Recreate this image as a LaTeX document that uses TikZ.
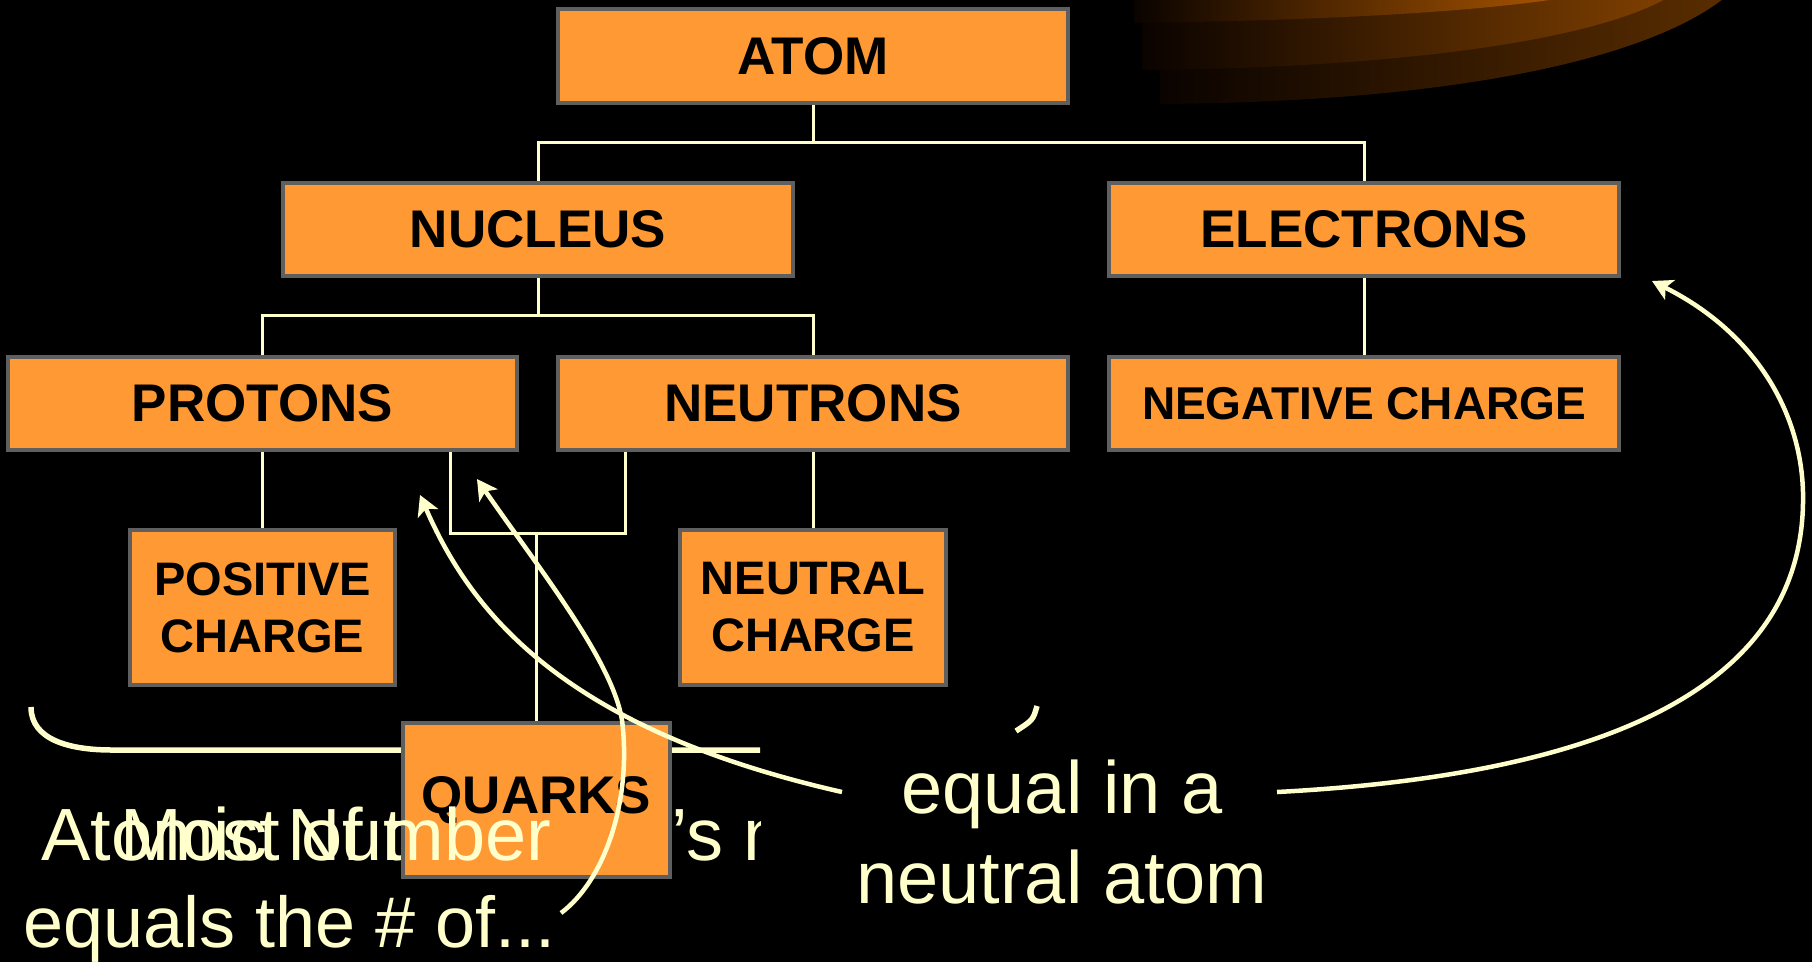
\documentclass[tikz,border=0pt]{standalone}
\usepackage{fontspec}
\setmainfont{Liberation Sans}
\usetikzlibrary{arrows.meta}
\definecolor{boxfill}{HTML}{FF9933}
\definecolor{boxline}{HTML}{5F5F5F}
\definecolor{cream}{HTML}{FFFFCC}
\definecolor{decoA}{HTML}{B05800}
\definecolor{decoB}{HTML}{804000}
\definecolor{decoC}{HTML}{5A2D00}
\definecolor{decodark}{HTML}{0A0300}
\pgfdeclarelayer{back}
\pgfdeclarelayer{bg}
\pgfsetlayers{back,bg,main}
\begin{document}
\begin{tikzpicture}[x=1pt,y=-1pt,
  box/.style={draw=boxline, fill=boxfill, line width=3.5pt, inner sep=0pt, align=center,
              font=\bfseries\fontsize{53}{57}\selectfont},
  conn/.style={draw=cream, line width=3pt},
  arr/.style={draw=cream, line width=4.5pt, -{Stealth[length=20pt,width=22pt,inset=5pt]}},
  bodytxt/.style={text=cream, inner sep=0pt, font=\fontsize{74}{90}\selectfont},
  penline/.style={draw=cream, line width=5.5pt}]
\useasboundingbox (0,0) rectangle (1812,962);
\begin{pgfonlayer}{back}
  \fill[black] (0,0) rectangle (1812,962);
  \begin{scope}
    \clip (0,0) rectangle (1812,962);
    \shade[left color=decodark, right color=decoC] (1160,-5) -- (1160,104) .. controls (1450,102) and (1650,60) .. (1728,-5) -- cycle;
    \shade[left color=decodark, right color=decoB] (1142,-5) -- (1142,70) .. controls (1400,68) and (1600,40) .. (1672,-5) -- cycle;
    \shade[left color=decodark, right color=decoA] (1134,-5) -- (1134,23) .. controls (1350,20) and (1500,10) .. (1580,-5) -- cycle;
  \end{scope}
\end{pgfonlayer}

% boxes
\node[box, minimum width=510pt, minimum height=94pt] (atom) at (813,56) {ATOM};
\node[box, minimum width=510pt, minimum height=93pt] (nucleus) at (538,229.5) {NUCLEUS};
\node[box, minimum width=510pt, minimum height=93pt] (electrons) at (1364,229.5) {ELECTRONS};
\node[box, minimum width=509pt, minimum height=93pt] (protons) at (262.5,403.5) {PROTONS};
\node[box, minimum width=510pt, minimum height=93pt] (neutrons) at (813,403.5) {NEUTRONS};
\node[box, minimum width=510pt, minimum height=93pt, font=\bfseries\fontsize{46}{50}\selectfont] (neg) at (1364,403.5) {NEGATIVE CHARGE};
\node[box, minimum width=265pt, minimum height=155pt, font=\bfseries\fontsize{47}{57}\selectfont] (pos) at (262.5,607.5) {POSITIVE\\CHARGE};
\node[box, minimum width=266pt, minimum height=155pt, font=\bfseries\fontsize{47}{57}\selectfont] (neutral) at (813,607.5) {NEUTRAL\\CHARGE};
\node[box, minimum width=267pt, minimum height=154pt] (quarks) at (536.5,800) {QUARKS};

\begin{pgfonlayer}{bg}
  \coordinate (busA) at (0,142);
  \coordinate (busN) at (0,315);
  \coordinate (q1) at (450,533);
  \coordinate (q2) at (625,533);
  \draw[conn] (atom.south) -- (atom.south |- busA);
  \draw[conn] (nucleus.north) |- (electrons.north |- busA) -- (electrons.north);
  \draw[conn] (nucleus.south) -- (nucleus.south |- busN);
  \draw[conn] (protons.north) |- (neutrons.north |- busN) -- (neutrons.north);
  \draw[conn] (electrons.south) -- (neg.north);
  \draw[conn] (protons.south) -- (pos.north);
  \draw[conn] (neutrons.south) -- (neutral.north);
  \draw[conn] (protons.south -| q1) -- (q1) -- (q2) -- (neutrons.south -| q2);
  \draw[conn] (quarks.north |- q1) -- (quarks.north);
  % partly hidden text and bracket
  \begin{scope}
    \clip (0,770) rectangle (760,900);
    \node[bodytxt, anchor=base west] (most) at (120,860) {Most of the atom’s mass};
  \end{scope}
  \draw[penline] (31,707) .. controls (31,740) and (70,750) .. (112,750) -- (760,750);
  \draw[penline] (1037,706) .. controls (1033,720) .. (1016,731);
\end{pgfonlayer}

% texts
\node[bodytxt, anchor=base west] (atnum) at (41,860) {Atomic Number};
\node[bodytxt, anchor=base west, font=\fontsize{72}{90}\selectfont] (equals) at (23,947) {equals the \# of...};
\node[bodytxt, anchor=base] (eq1) at (1062,813) {equal in a};
\node[bodytxt, anchor=base] (eq2) at (1062,903) {neutral atom};

% arrows
\coordinate (a1s) at (842,792);
\coordinate (a1e) at (420,495);
\coordinate (b1s) at (561,913);
\coordinate (b1m) at (622,720);
\coordinate (b1e) at (477,479);
\coordinate (c1s) at (1277,792);
\coordinate (c1m) at (1803,503);
\coordinate (c1e) at (1652,281);
\draw[arr] (a1s) .. controls (560,728) and (470,610) .. (a1e);
\draw[arr] (b1s) .. controls (605,880) and (632,800) .. (b1m) .. controls (612,660) and (540,570) .. (b1e);
\draw[arr] (c1s) .. controls (1600,775) and (1800,690) .. (c1m) .. controls (1805,420) and (1760,335) .. (c1e);
\end{tikzpicture}
\end{document}
